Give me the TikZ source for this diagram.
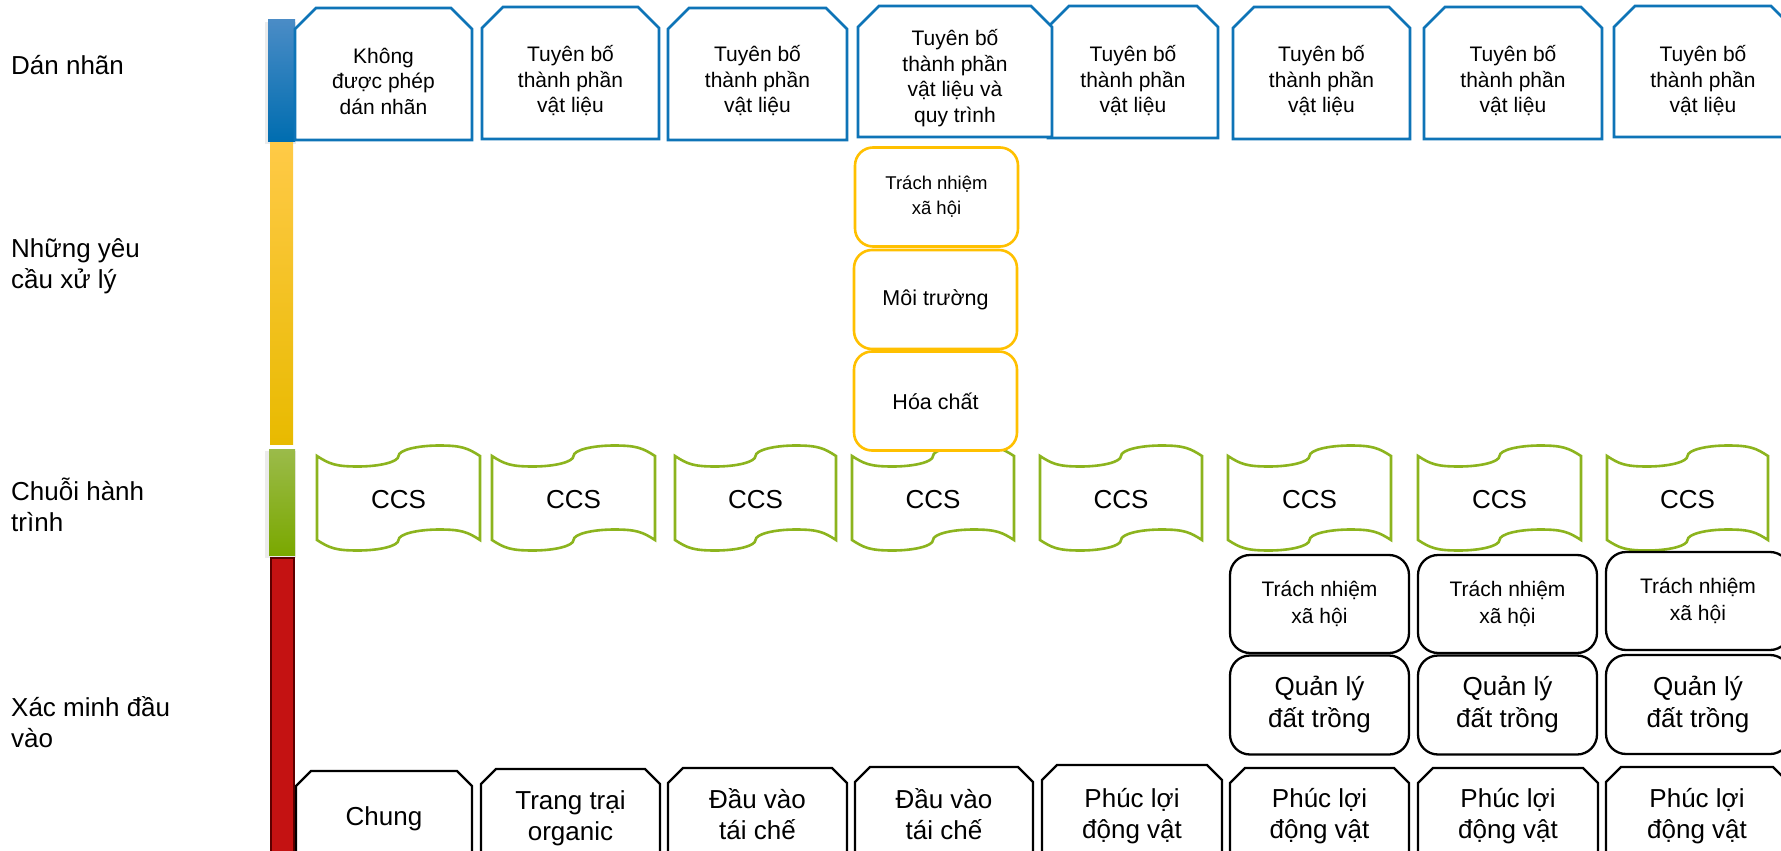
\documentclass[tikz,border=0pt]{standalone}
\usepackage{fontspec}
\setmainfont{Liberation Sans}
\usetikzlibrary{calc}

\definecolor{blueline}{HTML}{0E74B7}
\definecolor{yellowline}{HTML}{FFC000}
\definecolor{greenline}{HTML}{8CB41E}
\definecolor{bluetop}{HTML}{4A8CC6}
\definecolor{bluebot}{HTML}{006DB0}
\definecolor{yeltop}{HTML}{FFCA47}
\definecolor{yelmid}{HTML}{FFC800}
\definecolor{yelbot}{HTML}{E8BA00}
\definecolor{grntop}{HTML}{9BBB4A}
\definecolor{grnbot}{HTML}{7AA800}
\definecolor{redfill}{HTML}{C41212}
\definecolor{redline}{HTML}{5C0000}

% box with both top corners cut off: style, left, top, right, bottom, cut
\newcommand\snipbox[6]{%
  \draw[#1] ({#2},{#5}) -- ({#2},{#3+#6}) -- ({#2+#6},{#3}) -- ({#4-#6},{#3})
    -- ({#4},{#3+#6}) -- ({#4},{#5}) -- cycle;}

% punched-tape banner: left, right, top line, bottom line, wave height
\newcommand\tapebox[5]{%
  \pgfmathsetmacro\tq{(#2-#1)/4}%
  \pgfmathsetmacro\tm{(#1+#2)/2}%
  \pgfmathsetmacro\tk{0.5523*\tq}%
  \pgfmathsetmacro\te{0.3*\tq}%
  \pgfmathsetmacro\ta{0.5523*#5}%
  \pgfmathsetmacro\tb{0.75*#5}%
  \draw[tapeline]
    ({#1},{#3}) .. controls ({#1+\te},{#3+\tb}) and ({#1+\tq-\tk},{#3+#5}) .. ({#1+\tq},{#3+#5})
    .. controls ({#1+\tq+\tk},{#3+#5}) and ({\tm},{#3+\ta}) .. ({\tm},{#3})
    .. controls ({\tm},{#3-\ta}) and ({\tm+\tq-\tk},{#3-#5}) .. ({\tm+\tq},{#3-#5})
    .. controls ({\tm+\tq+\tk},{#3-#5}) and ({#2-\te},{#3-\tb}) .. ({#2},{#3})
    -- ({#2},{#4})
    .. controls ({#2-\te},{#4-\tb}) and ({\tm+\tq+\tk},{#4-#5}) .. ({\tm+\tq},{#4-#5})
    .. controls ({\tm+\tq-\tk},{#4-#5}) and ({\tm},{#4-\ta}) .. ({\tm},{#4})
    .. controls ({\tm},{#4+\ta}) and ({#1+\tq+\tk},{#4+#5}) .. ({#1+\tq},{#4+#5})
    .. controls ({#1+\tq-\tk},{#4+#5}) and ({#1+\te},{#4+\tb}) .. ({#1},{#4})
    -- cycle;}

\tikzset{
  toplabel/.style={draw=blueline, line width=2.6pt, fill=white, line join=miter},
  botlabel/.style={draw=black, line width=2.3pt, fill=white, line join=miter},
  tapeline/.style={draw=greenline, line width=2.6pt, fill=white},
  rowname/.style={anchor=west, align=left, inner sep=0pt,
    font=\fontsize{26}{30.5}\selectfont},
  toptext/.style={align=center, inner sep=0pt, font=\fontsize{21}{25.5}\selectfont},
  bigtext/.style={align=center, inner sep=0pt, font=\fontsize{26}{31}\selectfont},
  ybox/.style={draw=yellowline, line width=2.6pt, fill=white, rounded corners=18pt,
    minimum width=163pt, minimum height=99pt, inner sep=0pt, align=center,
    font=\fontsize{21.5}{25}\selectfont},
  kbox/.style={draw=black, line width=2.3pt, fill=white, rounded corners=20pt,
    minimum width=179pt, minimum height=98pt, inner sep=0pt, align=center,
    font=\fontsize{26}{32}\selectfont},
  smallfont/.style={font=\fontsize{18.5}{25}\selectfont},
  socialfont/.style={font=\fontsize{21}{27}\selectfont},
}

\begin{document}
\begin{tikzpicture}[x=1pt,y=-1pt]
\useasboundingbox (0,0) rectangle (1781,851);
\fill[white] (0,0) rectangle (1781,851);
\clip (0,0) rectangle (1781,851);

% row names
\node[rowname] (nLabel)   at (11,65)  {Dán nhãn};
\node[rowname] (nProcess) at (11,266) {Những yêu\\cầu xử lý};
\node[rowname] (nChain)   at (11,505) {Chuỗi hành\\trình};
\node[rowname] (nInput)   at (11,722) {Xác minh đầu\\vào};

% coloured side bars
\foreach \t/\b in {20/141,449/555}{
  \fill[black,opacity=.08] (265,{\t+2}) rectangle (296,{\b+3});
}
\fill[top color=bluetop, bottom color=bluebot] (268,20) rectangle (295,141);
\fill[top color=yeltop, middle color=yelmid, bottom color=yelbot] (270,142) rectangle (293,444);
\fill[top color=grntop, bottom color=grnbot] (269,449) rectangle (295,555);
\filldraw[fill=redfill, draw=redline, line width=1.5pt] (271,558) rectangle (294,880);

% labelling row
\snipbox{toplabel}{295}{8}{472}{140}{21}
\node[toptext] (l1) at (383.5,81) {Không\\được phép\\dán nhãn};
\snipbox{toplabel}{482}{7}{659}{139}{21}
\node[toptext] (l2) at (570.5,81) {Tuyên bố\\thành phần\\vật liệu};
\snipbox{toplabel}{668}{8}{847}{140}{21}
\node[toptext] (l3) at (757.5,81) {Tuyên bố\\thành phần\\vật liệu};
\snipbox{toplabel}{1048}{6}{1218}{138}{21}
\node[toptext] (l5) at (1133,81) {Tuyên bố\\thành phần\\vật liệu};
\snipbox{toplabel}{858}{6}{1052}{137}{21}
\node[toptext] (l4) at (955,78) {Tuyên bố\\thành phần\\vật liệu và\\quy trình};
\snipbox{toplabel}{1233}{7}{1410}{139}{21}
\node[toptext] (l6) at (1321.5,81) {Tuyên bố\\thành phần\\vật liệu};
\snipbox{toplabel}{1424}{7}{1602}{139}{21}
\node[toptext] (l7) at (1513,81) {Tuyên bố\\thành phần\\vật liệu};
\snipbox{toplabel}{1614}{6}{1792}{137}{21}
\node[toptext] (l8) at (1703,81) {Tuyên bố\\thành phần\\vật liệu};

% chain of custody row
\foreach \l/\r [count=\i] in {317/480,492/655,675/836,852/1014,1040/1202,1228/1391,1418/1581,1607/1768}{
  \tapebox{\l}{\r}{456}{540}{10.5}
  \node[bigtext] (ccs\i) at ({(\l+\r)/2},500) {CCS};
}

% processing requirements
\node[ybox, smallfont] (pSocial) at (936.5,197) {Trách nhiệm\\xã hội};
\node[ybox] (pEnv)    at (935.5,299.5) {Môi trường};
\node[ybox] (pChem)   at (935.5,401)   {Hóa chất};

% input verification: extra checks
\node[kbox, socialfont] (s6) at (1319.5,604) {Trách nhiệm\\xã hội};
\node[kbox, socialfont] (s7) at (1507.5,604) {Trách nhiệm\\xã hội};
\node[kbox, socialfont, minimum width=184pt] (s8) at (1698,601) {Trách nhiệm\\xã hội};
\node[kbox, minimum height=99pt] (m6) at (1319.5,705) {Quản lý\\đất trồng};
\node[kbox, minimum height=99pt] (m7) at (1507.5,705) {Quản lý\\đất trồng};
\node[kbox, minimum width=184pt, minimum height=99pt] (m8) at (1698,704.5) {Quản lý\\đất trồng};

% input verification: standards
\snipbox{botlabel}{296}{771}{472}{900}{15}
\node[bigtext] (b1) at (384,819) {Chung};
\snipbox{botlabel}{481}{769}{660}{900}{15}
\node[bigtext] (b2) at (570.5,818) {Trang trại\\organic};
\snipbox{botlabel}{668}{768}{847}{900}{15}
\node[bigtext] (b3) at (757.5,814) {Đầu vào\\tái chế};
\snipbox{botlabel}{855}{767}{1033}{900}{15}
\node[bigtext] (b4) at (944,814) {Đầu vào\\tái chế};
\snipbox{botlabel}{1042}{765}{1222}{900}{15}
\node[bigtext] (b5) at (1132,816) {Phúc lợi\\động vật};
\snipbox{botlabel}{1230}{768}{1409}{900}{15}
\node[bigtext] (b6) at (1319.5,816) {Phúc lợi\\động vật};
\snipbox{botlabel}{1418}{768}{1598}{900}{15}
\node[bigtext] (b7) at (1508,816) {Phúc lợi\\động vật};
\snipbox{botlabel}{1606}{767}{1788}{900}{15}
\node[bigtext] (b8) at (1697,816) {Phúc lợi\\động vật};
\end{tikzpicture}
\end{document}
